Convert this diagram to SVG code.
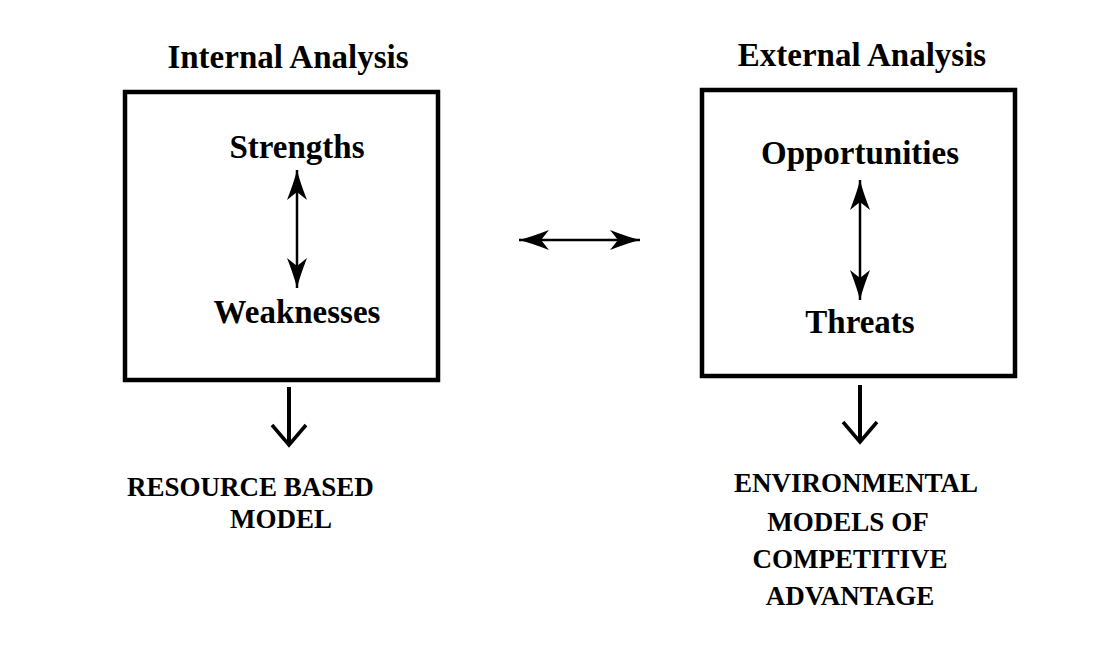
<svg xmlns="http://www.w3.org/2000/svg" width="1117" height="646" viewBox="0 0 1117 646">
  <style>
    .box { fill: none; stroke: #000; stroke-width: 4.5; }
    .title { font-family: "Liberation Serif", "Times New Roman", serif; font-weight: bold; font-size: 33px; fill: #000; }
    .label { font-family: "Liberation Serif", "Times New Roman", serif; font-weight: bold; font-size: 33px; fill: #000; }
    .caps { font-family: "Liberation Serif", "Times New Roman", serif; font-weight: bold; font-size: 27px; fill: #000; }
    .dbl { stroke: #000; stroke-width: 2.5; fill: none; }
    .down { stroke: #000; stroke-width: 4; fill: none; }
  </style>
  <defs>
    <marker id="swept" markerUnits="userSpaceOnUse" markerWidth="40" markerHeight="30" viewBox="-34 -15 40 30" refX="0" refY="0" orient="auto-start-reverse">
      <path d="M0,0 Q-12,-3 -30,-10 L-22,0 L-30,10 Q-12,3 0,0 Z" fill="#000"/>
    </marker>
    <marker id="vee" markerUnits="userSpaceOnUse" markerWidth="30" markerHeight="44" viewBox="-26 -22 30 44" refX="0" refY="0" orient="auto">
      <path d="M-20,-17 L0,0 L-20,17" fill="none" stroke="#000" stroke-width="3.5"/>
    </marker>
  </defs>

  <rect width="1117" height="646" fill="#fff"/>

  <g id="internal">
    <text class="title" x="288" y="68" text-anchor="middle">Internal Analysis</text>
    <rect class="box" x="125" y="92" width="313" height="288"/>
  </g>
  <g id="strengths">
    <text class="label" x="297" y="158" text-anchor="middle">Strengths</text>
  </g>
  <g id="weaknesses">
    <text class="label" x="297" y="323" text-anchor="middle">Weaknesses</text>
  </g>

  <g id="external">
    <text class="title" x="862" y="66" text-anchor="middle">External Analysis</text>
    <rect class="box" x="702" y="90" width="313" height="286"/>
  </g>
  <g id="opportunities">
    <text class="label" x="860" y="164" text-anchor="middle">Opportunities</text>
  </g>
  <g id="threats">
    <text class="label" x="860" y="333" text-anchor="middle">Threats</text>
  </g>

  <g id="resource-model">
    <text class="caps" x="127" y="496">RESOURCE BASED</text>
    <text class="caps" x="230" y="528">MODEL</text>
  </g>

  <g id="environmental-models">
    <text class="caps" x="856" y="492" text-anchor="middle">ENVIRONMENTAL</text>
    <text class="caps" x="848" y="531" text-anchor="middle">MODELS OF</text>
    <text class="caps" x="850" y="568" text-anchor="middle">COMPETITIVE</text>
    <text class="caps" x="850" y="605" text-anchor="middle">ADVANTAGE</text>
  </g>

  <g id="connectors">
    <line class="dbl" x1="297" y1="170" x2="297" y2="288" marker-start="url(#swept)" marker-end="url(#swept)"/>
    <line class="dbl" x1="860" y1="180" x2="860" y2="300" marker-start="url(#swept)" marker-end="url(#swept)"/>
    <line class="dbl" x1="519" y1="240" x2="640" y2="240" marker-start="url(#swept)" marker-end="url(#swept)"/>
    <line class="down" x1="289" y1="387" x2="289" y2="445" marker-end="url(#vee)"/>
    <line class="down" x1="860" y1="385" x2="860" y2="442" marker-end="url(#vee)"/>
  </g>
</svg>
